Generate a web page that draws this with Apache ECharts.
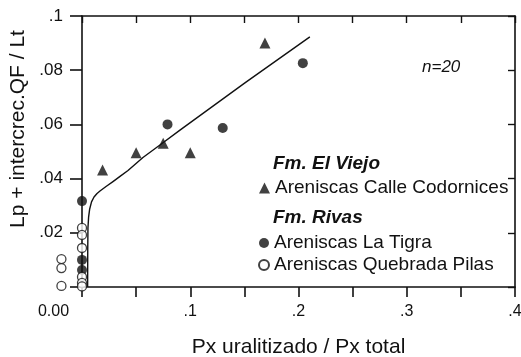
<!DOCTYPE html>
<html>
<head>
<meta charset="utf-8">
<script src="https://cdn.jsdelivr.net/npm/echarts@6/dist/echarts.min.js"></script>
<style>html,body{margin:0;padding:0;background:#fff;}#c{width:521px;height:357px;}</style>
</head>
<body>
<div id="c"></div>
<script>
// ---- data ----
const xTickValues = [0, 0.1, 0.2, 0.3, 0.4];
const xTickLabels = ['0.00', '.1', '.2', '.3', '.4'];
const yTickValues = [0.02, 0.04, 0.06, 0.08, 0.1];
const yTickLabels = ['.02', '.04', '.06', '.08', '.1'];

const codornices = [[0.019, 0.0432], [0.050, 0.0495], [0.075, 0.0530], [0.100, 0.0495], [0.169, 0.0900]];
const laTigra = [[0, 0.0317], [0.079, 0.0600], [0.130, 0.0587], [0.204, 0.0826], [0, 0.0100], [0, 0.0063]];
const quebradaPilas = [[0, 0.0218], [0, 0.0192], [0, 0.0144], [0, 0.0037], [0, 0.0015], [0, 0.0002],
                       [-0.019, 0.0103], [-0.019, 0.0070], [-0.019, 0.0004]];
const fitCurve = [[0.0052, 0.0000], [0.0053, 0.0137], [0.0055, 0.0218], [0.0061, 0.0258], [0.0071, 0.0288],
                  [0.0088, 0.0314], [0.0111, 0.0332], [0.0139, 0.0345], [0.0166, 0.0354], [0.0222, 0.0371],
                  [0.0286, 0.0389], [0.0351, 0.0408], [0.0425, 0.0430], [0.0563, 0.0478], [0.0720, 0.0524],
                  [0.0905, 0.0579], [0.1505, 0.0753], [0.2105, 0.0923]];

const seriesNames = ['Areniscas Calle Codornices', 'Areniscas La Tigra', 'Areniscas Quebrada Pilas'];
const headers = ['Fm. El Viejo', 'Fm. Rivas'];
const nLabel = 'n=20';
const xTitle = 'Px uralitizado / Px total';
const yTitle = 'Lp + intercrec.QF / Lt';

const FONT = 'Liberation Sans';
const INK = '#111';

function findLabel(vals, labs, v) {
  const i = vals.findIndex(t => Math.abs(t - v) < 1e-6);
  return i < 0 ? '' : labs[i];
}

const chart = echarts.init(document.getElementById('c'), null, {renderer: 'canvas'});
const axisLine = {show: true, onZero: false, lineStyle: {color: INK, width: 1.6}};

chart.setOption({
  animation: false,
  backgroundColor: '#fff',
  grid: {left: 82, right: 6, top: 16, bottom: 70, containLabel: false, outerBoundsMode: 'none'},
  xAxis: [
    {
      type: 'value', position: 'bottom', min: 0, max: 0.4, interval: 0.05,
      axisLine: axisLine,
      axisTick: {show: true, inside: false, length: 10, lineStyle: {color: INK, width: 1.6}},
      splitLine: {show: false},
      axisLabel: {
        show: true, margin: 17, fontFamily: FONT, fontSize: 16, color: INK,
        showMinLabel: true, showMaxLabel: true,
        formatter: function (v) {
          const s = findLabel(xTickValues, xTickLabels, v);
          if (Math.abs(v) < 1e-9) return '{z|' + s + '}';
          return s;
        },
        rich: {z: {fontFamily: FONT, fontSize: 16, color: INK, padding: [0, 57, 0, 0]}}
      },
      name: xTitle, nameLocation: 'middle', nameGap: 50,
      nameTextStyle: {fontFamily: FONT, fontSize: 21, color: INK}
    },
    {
      type: 'value', position: 'top', min: 0, max: 0.4, interval: 0.05,
      axisLine: axisLine,
      axisTick: {show: true, inside: true, length: 7, lineStyle: {color: INK, width: 1.4}},
      axisLabel: {show: false}, splitLine: {show: false}
    }
  ],
  yAxis: [
    {
      type: 'value', position: 'left', min: 0, max: 0.1, interval: 0.02,
      axisLine: axisLine,
      axisTick: {show: true, inside: false, length: 12, lineStyle: {color: INK, width: 1.6}},
      splitLine: {show: false},
      axisLabel: {
        show: true, margin: 19, fontFamily: FONT, fontSize: 17, color: INK,
        showMinLabel: true, showMaxLabel: true,
        formatter: function (v) { return findLabel(yTickValues, yTickLabels, v); }
      },
      name: yTitle, nameLocation: 'middle', nameGap: 46, nameRotate: 90,
      nameTextStyle: {fontFamily: FONT, fontSize: 21, color: INK, padding: [0, 0, 0, 45]}
    },
    {
      type: 'value', position: 'right', min: 0, max: 0.1, interval: 0.02,
      axisLine: axisLine,
      axisTick: {show: true, inside: true, length: 7, lineStyle: {color: INK, width: 1.4}},
      axisLabel: {show: false}, splitLine: {show: false}
    }
  ],
  legend: [
    {
      data: [seriesNames[0]], left: 259, top: 178, padding: 0, orient: 'vertical',
      itemWidth: 11, itemHeight: 11, itemGap: 2,
      textStyle: {fontFamily: FONT, fontSize: 19, color: INK, lineHeight: 20},
      selectedMode: false
    },
    {
      data: [seriesNames[1], seriesNames[2]], left: 258, top: 233, padding: 0, orient: 'vertical',
      itemWidth: 10, itemHeight: 10, itemGap: 2,
      textStyle: {fontFamily: FONT, fontSize: 19, color: INK, lineHeight: 20},
      selectedMode: false
    }
  ],
  graphic: [
    {type: 'text', left: 273, top: 154, style: {text: headers[0], fontFamily: FONT, fontSize: 19, fontWeight: 'bold', fontStyle: 'italic', fill: INK}},
    {type: 'text', left: 273, top: 208, style: {text: headers[1], fontFamily: FONT, fontSize: 19, fontWeight: 'bold', fontStyle: 'italic', fill: INK}},
    {type: 'text', left: 422, top: 59, style: {text: nLabel, fontFamily: FONT, fontSize: 17, fontStyle: 'italic', fill: INK}}
  ],
  series: [
    {
      type: 'line', name: 'fit', data: fitCurve, smooth: false, symbol: 'none', clip: false,
      lineStyle: {color: INK, width: 1.4, join: 'round'}, z: 1, silent: true
    },
    {
      type: 'scatter', name: seriesNames[0], data: codornices, symbol: 'triangle', symbolSize: 11,
      itemStyle: {color: INK}, clip: false, z: 3
    },
    {
      type: 'scatter', name: seriesNames[1], data: laTigra, symbol: 'circle', symbolSize: 10,
      itemStyle: {color: INK}, clip: false, z: 3
    },
    {
      type: 'scatter', name: seriesNames[2], data: quebradaPilas, symbol: 'circle', symbolSize: 9,
      itemStyle: {color: '#fff', borderColor: INK, borderWidth: 1.3}, clip: false, z: 4
    }
  ]
});
</script>
</body>
</html>
